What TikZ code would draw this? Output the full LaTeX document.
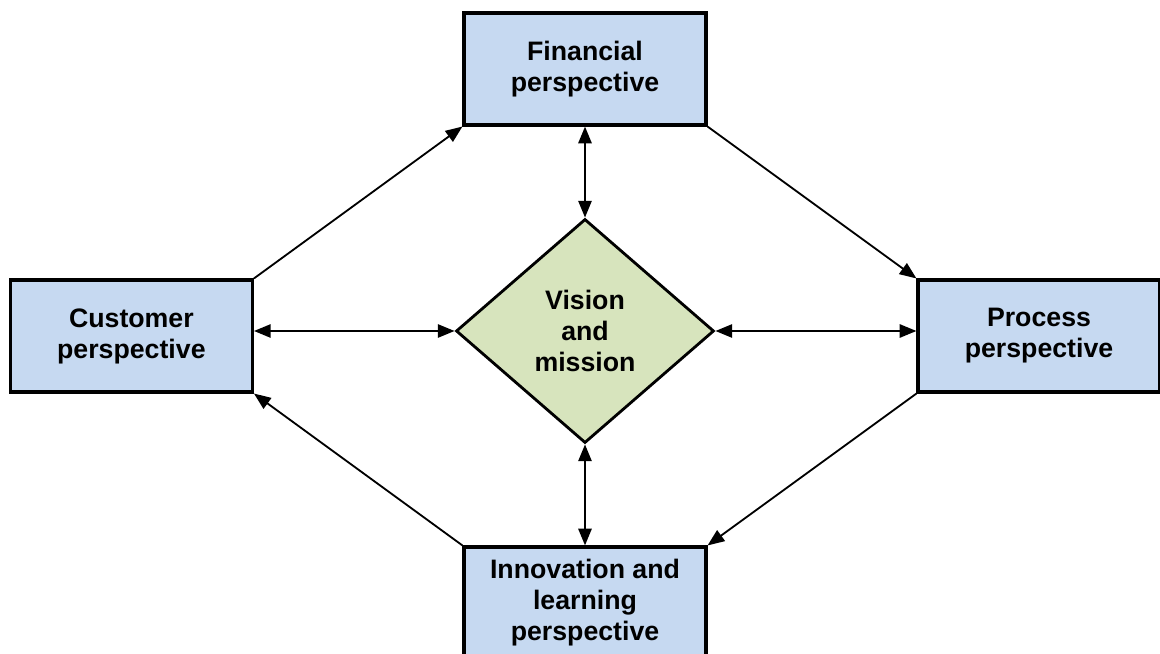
\documentclass[tikz,border=0pt]{standalone}
\usepackage{fontspec}
\setmainfont{Liberation Sans}
\usetikzlibrary{arrows.meta,positioning,shapes.geometric}

\definecolor{boxblue}{RGB}{198,217,241}
\definecolor{diagreen}{RGB}{215,228,189}

\tikzset{
    persp/.style={draw, line width=2.2pt, fill=boxblue, minimum width=6.05cm,
        minimum height=2.8cm, align=center, inner sep=2pt,
        font=\fontsize{19}{22}\selectfont\bfseries},
    core/.style={diamond, draw, line width=2pt, fill=diagreen, aspect=1.15,
        minimum width=6.45cm, minimum height=5.6cm, inner sep=0pt, align=center,
        font=\fontsize{19}{22}\selectfont\bfseries},
    link/.style={line width=1.6pt, {Triangle[length=0.42cm,width=0.33cm]}-{Triangle[length=0.42cm,width=0.33cm]}},
    flow/.style={line width=1.3pt, -{Triangle[length=0.42cm,width=0.33cm]}}
}

\begin{document}
\begin{tikzpicture}[on grid]
    \useasboundingbox (0,0) rectangle (29,-16.35);
    \node[core] (vm) at (14.625,-8.275) {Vision\\and\\mission};
    \node[persp, above=6.55cm of vm] (fin) {Financial\\perspective};
    \node[persp, left=11.34cm of vm, yshift=-0.125cm] (cust) {Customer\\perspective};
    \node[persp, right=11.35cm of vm, yshift=-0.125cm] (proc) {Process\\perspective};
    \node[persp, below=6.8cm of vm] (inno) {Innovation and\\learning\\perspective};
    % links to the centre
    \draw[link] (fin.south) -- (vm.north);
    \draw[link] (vm.south) -- (inno.north);
    \draw[link] (cust.east |- vm.west) -- (vm.west);
    \draw[link] (vm.east) -- (proc.west |- vm.east);
    % the cycle round the outside
    \draw[flow] (cust.north east) -- (fin.south west);
    \draw[flow] (fin.south east) -- (proc.north west);
    \draw[flow] (proc.south west) -- (inno.north east);
    \draw[flow] (inno.north west) -- (cust.south east);
\end{tikzpicture}
\end{document}
